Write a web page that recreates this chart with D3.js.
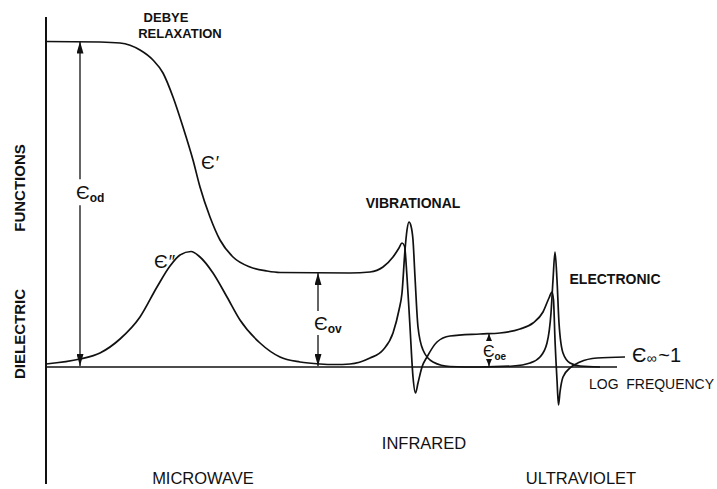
<!DOCTYPE html>
<html>
<head>
<meta charset="utf-8">
<script src="https://cdn.jsdelivr.net/npm/d3@7"></script>
<style>
  html, body { margin: 0; padding: 0; background: #fff; }
  svg { display: block; font-family: "Liberation Sans", Arial, sans-serif; }
</style>
</head>
<body>
<svg id="chart" width="717" height="489"></svg>
<script>
// log-frequency (arbitrary units) and dielectric function values
const realX = [0, 5.4, 7.4, 9.4, 10.7, 11.7, 12.7, 13.7, 14.7, 15.4, 16.4, 17.4, 18.7, 20.4, 22.1, 23.4,
  30.4, 32.4, 33.7, 34.7, 35.3, 35.6, 35.85, 36.1, 36.4, 36.7, 36.95, 37.2, 37.6, 38.1, 39.1, 40.4,
  43.4, 45.4, 47.4, 48.7, 49.7, 50.3, 50.6, 50.75, 50.9, 51.1, 51.25, 51.4, 51.7, 52.4, 53.4, 55.1, 57.9];
const realY = [32.55, 32.5, 32.4, 31.7, 30.7, 29.4, 27.0, 24.0, 20.7, 18.0, 15.0, 12.7, 11.0, 10.0, 9.6, 9.45,
  9.4, 9.5, 10.0, 11.0, 11.9, 12.4, 12.1, 9.0, 4.0, -1.0, -2.6, -1.6, 0.0, 1.0, 2.5, 3.1,
  3.3, 3.4, 3.8, 4.4, 5.5, 6.9, 7.5, 6.7, 2.7, -1.3, -3.8, -2.5, -1.0, -0.1, 0.5, 0.9, 1.0];

const lossX = [0, 3.4, 5.4, 7.4, 9.4, 11.1, 12.4, 13.4, 14.5, 15.4, 16.7, 18.1, 19.4, 21.4, 23.4,
  25.4, 27.4, 28.9, 30.4, 32.4, 33.7, 34.7, 35.3, 35.6, 35.9, 36.1, 36.3, 36.5, 36.7, 36.9, 37.2,
  37.7, 38.7, 40.4, 43.4, 46.7, 48.4, 49.4, 50.1, 50.5, 50.7, 50.9, 51.1, 51.3, 51.7, 52.4, 53.4, 55.4];
const lossY = [0.3, 0.8, 1.4, 2.8, 5.0, 8.0, 10.1, 11.2, 11.55, 11.0, 9.4, 7.0, 4.7, 2.4, 1.0,
  0.5, 0.3, 0.25, 0.3, 0.9, 1.7, 3.4, 5.7, 7.4, 11.7, 13.7, 14.5, 14.1, 12.7, 9.0, 4.0,
  1.7, 0.5, 0.05, 0.0, 0.1, 0.4, 1.0, 2.4, 5.4, 8.7, 11.5, 8.7, 4.4, 1.4, 0.4, 0.1, 0.0];

// static-permittivity step arrows
const stepNames = ["od", "ov", "oe"];
const stepX = [3.4, 27.2, 44.3];
const stepTop = [32.55, 9.4, 3.3];
const stepBottom = [0, 0, 0];

// region labels
const regionNames = ["MICROWAVE", "INFRARED", "ULTRAVIOLET"];
const mechanismNames = ["DEBYE", "RELAXATION", "VIBRATIONAL", "ELECTRONIC"];

const svg = d3.select("#chart");
const x = d3.scaleLinear().domain([0, 58]).range([46, 626]);
const y = d3.scaleLinear().domain([0, 32.6]).range([367, 41]);

svg.append("rect").attr("width", 717).attr("height", 489).attr("fill", "#fff");

const ink = "#111";

// axes
svg.append("line").attr("x1", x(0)).attr("x2", x(0)).attr("y1", y(35.0)).attr("y2", y(-11.7))
  .attr("stroke", ink).attr("stroke-width", 2);
svg.append("line").attr("x1", x(0)).attr("x2", x(57.1)).attr("y1", y(0)).attr("y2", y(0))
  .attr("stroke", ink).attr("stroke-width", 1.5);

// curves
const line = d3.line().x(d => x(d[0])).y(d => y(d[1])).curve(d3.curveMonotoneX);
const realData = realX.map((v, i) => [v, realY[i]]);
const lossData = lossX.map((v, i) => [v, lossY[i]]);
svg.append("path").attr("d", line(realData)).attr("fill", "none").attr("stroke", ink).attr("stroke-width", 1.7);
svg.append("path").attr("d", line(lossData)).attr("fill", "none").attr("stroke", ink).attr("stroke-width", 1.7);

// arrows
const defs = svg.append("defs");
function marker(id, len, wid) {
  defs.append("marker").attr("id", id).attr("viewBox", `0 0 ${len} ${wid}`)
    .attr("refX", len).attr("refY", wid / 2).attr("markerWidth", len).attr("markerHeight", wid)
    .attr("markerUnits", "userSpaceOnUse").attr("orient", "auto")
    .append("path").attr("d", `M0,0 L${len},${wid / 2} L0,${wid} Z`).attr("fill", ink);
}
marker("ahBig", 12, 7);
marker("ahSmall", 7, 6);

const labelSize = [19, 19, 16];
const subSize = [12, 12, 10];
const gapHalf = [13, 12, 11];
const labelCenter = [ (y(stepTop[0]) + y(stepBottom[0])) / 2 - 12, (y(stepTop[1]) + y(stepBottom[1])) / 2 + 3, (y(stepTop[2]) + y(stepBottom[2])) / 2 + 1 ];

stepNames.forEach((name, i) => {
  const px = x(stepX[i]);
  const yt = y(stepTop[i]), yb = y(stepBottom[i]);
  const c = labelCenter[i];
  const m = i === 2 ? "ahSmall" : "ahBig";
  svg.append("line").attr("x1", px).attr("x2", px).attr("y1", c - gapHalf[i]).attr("y2", yt)
    .attr("stroke", ink).attr("stroke-width", 1.3).attr("marker-end", `url(#${m})`);
  svg.append("line").attr("x1", px).attr("x2", px).attr("y1", c + gapHalf[i]).attr("y2", yb - 1)
    .attr("stroke", ink).attr("stroke-width", 1.3).attr("marker-end", `url(#${m})`);
  const t = svg.append("text").attr("x", px - (i === 2 ? 6 : 4)).attr("y", c + labelSize[i] * 0.36)
    .attr("fill", ink).attr("font-size", labelSize[i]);
  t.append("tspan").text("Є");
  t.append("tspan").attr("font-size", subSize[i]).attr("font-weight", "bold").attr("dy", 3).text(name);
});

// curve labels
function epsLabel(px, py, sup) {
  const t = svg.append("text").attr("x", px).attr("y", py).attr("fill", ink).attr("font-size", 19);
  t.append("tspan").text("Є");
  t.append("tspan").attr("font-size", 18).attr("dx", 1).text(sup);
}
epsLabel(201, 169, "′");
epsLabel(154, 268, "″");

const inf = svg.append("text").attr("x", 632).attr("y", 362).attr("fill", ink).attr("font-size", 20);
inf.append("tspan").text("Є");
inf.append("tspan").attr("font-size", 14).attr("dy", 1).text("∞");
inf.append("tspan").attr("dy", -1).attr("dx", 2).text("~1");

// mechanism labels
svg.append("text").attr("x", 166).attr("y", 22).attr("text-anchor", "middle").attr("font-weight", "bold")
  .attr("font-size", 13).attr("fill", ink).text(mechanismNames[0]);
svg.append("text").attr("x", 180).attr("y", 38).attr("text-anchor", "middle").attr("font-weight", "bold")
  .attr("font-size", 13).attr("fill", ink).text(mechanismNames[1]);
svg.append("text").attr("x", 413).attr("y", 208).attr("text-anchor", "middle").attr("font-weight", "bold")
  .attr("font-size", 14).attr("fill", ink).text(mechanismNames[2]);
svg.append("text").attr("x", 615).attr("y", 284).attr("text-anchor", "middle").attr("font-weight", "bold")
  .attr("font-size", 14).attr("fill", ink).text(mechanismNames[3]);

// x axis title
svg.append("text").attr("x", 589).attr("y", 389).attr("font-size", 14).attr("fill", ink)
  .attr("textLength", 125).attr("lengthAdjust", "spacingAndGlyphs")
  .attr("xml:space", "preserve").text("LOG  FREQUENCY");

// y axis title
svg.append("text").attr("transform", "translate(25,334) rotate(-90)").attr("text-anchor", "middle")
  .attr("font-size", 15).attr("font-weight", "bold").attr("fill", ink).text("DIELECTRIC");
svg.append("text").attr("transform", "translate(25,188) rotate(-90)").attr("text-anchor", "middle")
  .attr("font-size", 15).attr("font-weight", "bold").attr("fill", ink).text("FUNCTIONS");

// spectral regions
const regionX = [203, 424, 581];
const regionY = [484, 449, 484];
regionNames.forEach((n, i) => {
  svg.append("text").attr("x", regionX[i]).attr("y", regionY[i]).attr("text-anchor", "middle")
    .attr("font-size", 16.5).attr("fill", ink).text(n);
});
</script>
</body>
</html>
